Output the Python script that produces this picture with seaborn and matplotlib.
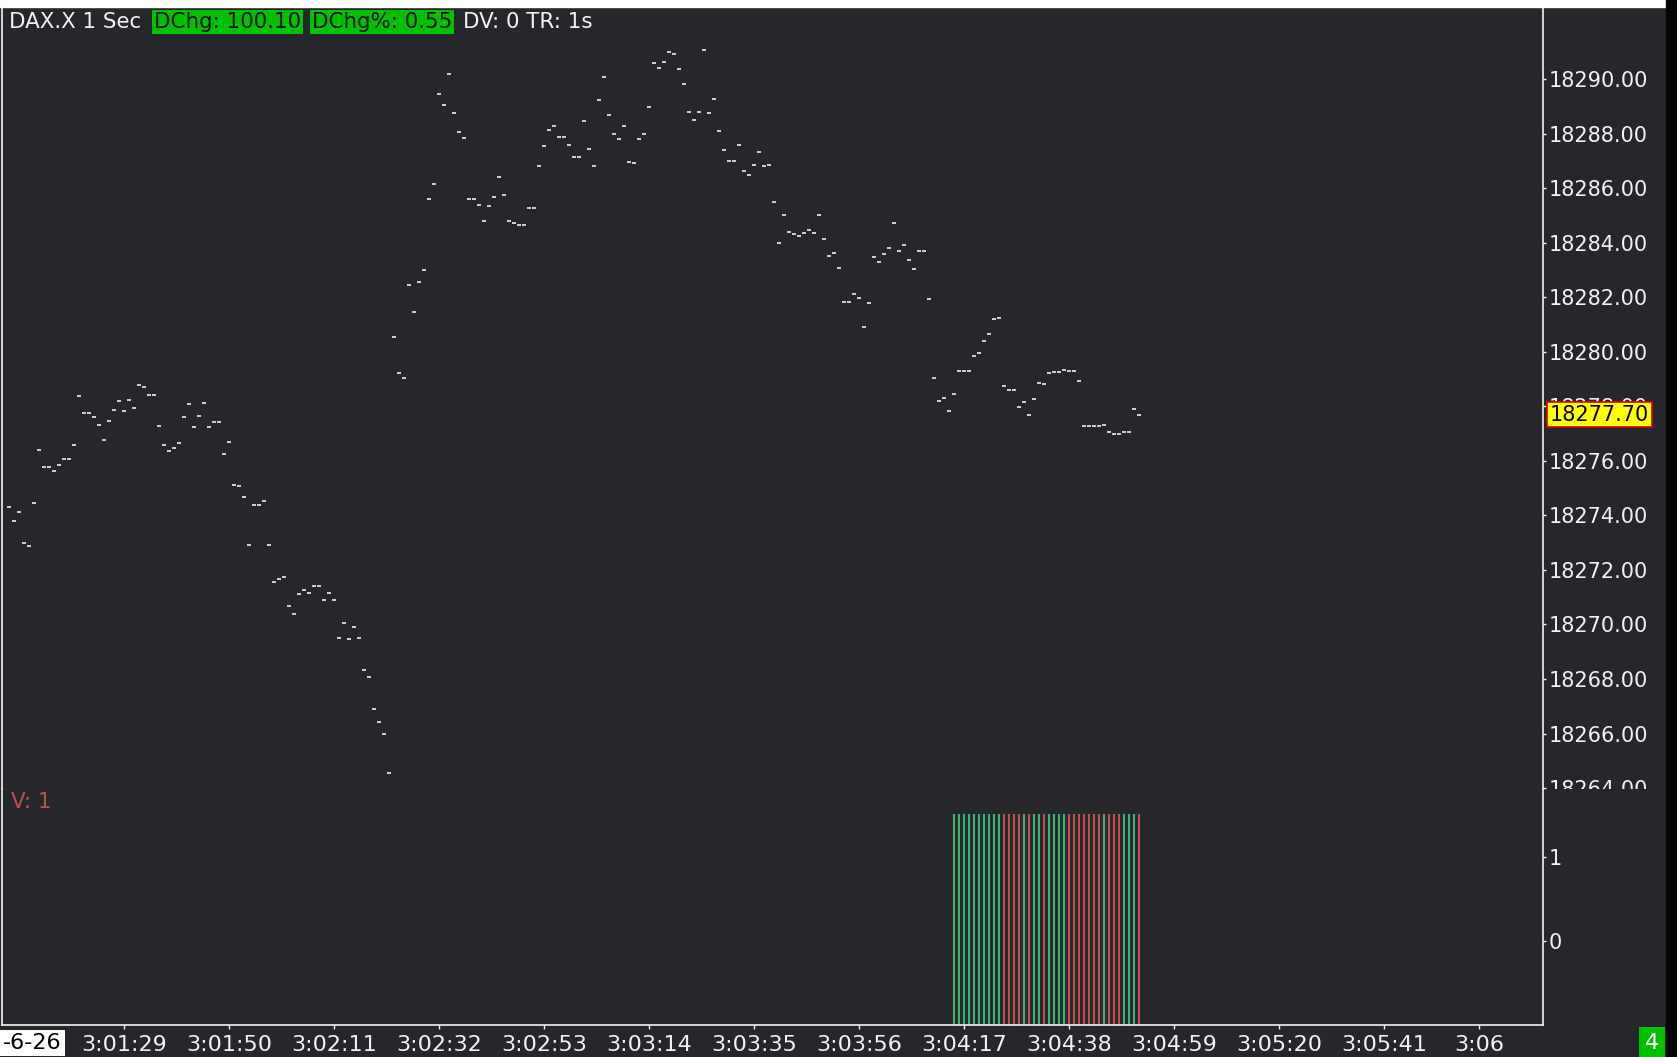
import numpy as np
import pandas as pd
import matplotlib
matplotlib.use("Agg")
import matplotlib.pyplot as plt
import matplotlib.transforms as mtransforms
from matplotlib.patches import Rectangle
import seaborn as sns

# -----------------------------
# Data (DAX.X, 1 second bars)
# -----------------------------
first_bar = "2024-06-26 03:01:06"

prices = [
    18274.31, 18273.78, 18274.11, 18272.98, 18272.87, 18274.44, 18276.39, 18275.76, 18275.76, 18275.62,
    18275.84, 18276.06, 18276.06, 18276.57, 18278.38, 18277.74, 18277.74, 18277.60, 18277.30, 18276.75,
    18277.45, 18277.85, 18278.18, 18277.82, 18278.22, 18277.93, 18278.77, 18278.70, 18278.41, 18278.41,
    18277.27, 18276.57, 18276.35, 18276.46, 18276.64, 18277.60, 18278.07, 18277.23, 18277.64, 18278.11,
    18277.23, 18277.41, 18277.41, 18276.24, 18276.68, 18275.10, 18275.07, 18274.66, 18272.90, 18274.37,
    18274.37, 18274.52, 18272.90, 18271.55, 18271.66, 18271.73, 18270.67, 18270.37, 18271.11, 18271.25,
    18271.14, 18271.40, 18271.40, 18270.89, 18271.14, 18270.89, 18269.49, 18270.04, 18269.46, 18269.90,
    18269.49, 18268.32, 18268.06, 18266.89, 18266.41, 18265.97, 18264.54, 18280.53, 18279.21, 18279.03,
    18282.44, 18281.45, 18282.55, 18282.99, 18285.59, 18286.14, 18289.44, 18289.04, 18290.18, 18288.75,
    18288.05, 18287.83, 18285.59, 18285.59, 18285.37, 18284.79, 18285.34, 18285.67, 18286.40, 18285.74,
    18284.79, 18284.71, 18284.64, 18284.64, 18285.26, 18285.26, 18286.80, 18287.54, 18288.12, 18288.27,
    18287.87, 18287.87, 18287.57, 18287.13, 18287.13, 18288.45, 18287.43, 18286.80, 18289.22, 18290.07,
    18288.67, 18287.98, 18287.79, 18288.27, 18286.95, 18286.91, 18287.79, 18287.98, 18288.97, 18290.58,
    18290.40, 18290.62, 18290.98, 18290.91, 18290.36, 18289.81, 18288.78, 18288.49, 18288.78, 18291.06,
    18288.75, 18289.26, 18288.09, 18287.39, 18286.99, 18286.99, 18287.57, 18286.62, 18286.47, 18286.84,
    18287.32, 18286.80, 18286.84, 18285.48, 18283.98, 18285.01, 18284.38, 18284.31, 18284.24, 18284.35,
    18284.46, 18284.35, 18285.01, 18284.13, 18283.50, 18283.61, 18283.06, 18281.82, 18281.82, 18282.11,
    18281.96, 18280.90, 18281.78, 18283.47, 18283.28, 18283.58, 18283.80, 18284.71, 18283.69, 18283.91,
    18283.36, 18283.03, 18283.69, 18283.69, 18281.93, 18279.03, 18278.18, 18278.29, 18277.82, 18278.44,
    18279.29, 18279.29, 18279.29, 18279.84, 18279.95, 18280.39, 18280.64, 18281.19, 18281.23, 18278.74,
    18278.59, 18278.59, 18277.97, 18278.15, 18277.67, 18278.26, 18278.85, 18278.81, 18279.21, 18279.25,
    18279.25, 18279.32, 18279.29, 18279.29, 18278.92, 18277.27, 18277.27, 18277.27, 18277.27, 18277.30,
    18277.05, 18276.97, 18276.97, 18277.05, 18277.05, 18277.89, 18277.70,
]

# only the last 38 bars carry volume
volume = [1] * 38

last_price = 18277.70
price_ticks = [18264, 18266, 18268, 18270, 18272, 18274, 18276, 18278,
               18280, 18282, 18284, 18286, 18288, 18290]
volume_ticks = [0, 1]
time_ticks = ["03:01:29", "03:01:50", "03:02:11", "03:02:32", "03:02:53", "03:03:14", "03:03:35",
              "03:03:56", "03:04:17", "03:04:38", "03:04:59", "03:05:20", "03:05:41", "03:06:00"]
time_labels = ["3:01:29", "3:01:50", "3:02:11", "3:02:32", "3:02:53", "3:03:14", "3:03:35",
               "3:03:56", "3:04:17", "3:04:38", "3:04:59", "3:05:20", "3:05:41", "3:06"]

# -----------------------------
# Style
# -----------------------------
BG = "#26272c"
FG = "#f2f2f2"
UP = "#3cb371"
DOWN = "#c0504d"
GREEN_BOX = "#00c000"
W, H = 1677, 1057
HEAD_SIZE = 15.4

sns.set_theme(style="dark", rc={"axes.facecolor": BG, "figure.facecolor": BG})
plt.rcParams["font.family"] = ["DejaVu Sans"]

times = pd.date_range(first_bar, periods=len(prices), freq="1s")
day = "2024-06-26 "

fig = plt.figure(figsize=(W / 100, H / 100), dpi=100)
ax_p = fig.add_axes([2 / W, 1 - 788.6 / H, 1541 / W, (788.6 - 8) / H])
ax_v = fig.add_axes([2 / W, 1 - 1025 / H, 1541 / W, (1025 - 788.6) / H], sharex=ax_p)

# price bars: one dash per second
sns.scatterplot(x=times, y=prices, marker="_", s=9, color="white", linewidth=1.1,
                ax=ax_p, legend=False)

# volume bars coloured by tick direction (ties keep last direction)
direction = pd.Series(prices).diff().apply(np.sign).replace(0, np.nan).ffill().fillna(1)
vol_dir = direction.iloc[-len(volume):].to_numpy()
vol_colors = np.where(vol_dir > 0, UP, DOWN)
vol_base = -0.99
ax_v.vlines(times[-len(volume):], vol_base, np.array(volume) * 1.5,
            colors=vol_colors, linewidth=1.5)

# axes limits / ticks
ax_p.set_xlim(pd.Timestamp(day + "03:01:04.58"), pd.Timestamp(day + "03:06:12.78"))
ax_p.set_ylim(18263.98, 18292.61)
ax_v.set_ylim(vol_base, 1.806)

for ax in (ax_p, ax_v):
    ax.set_facecolor(BG)
    ax.grid(False)
    ax.set_xlabel("")
    ax.set_ylabel("")
    ax.yaxis.tick_right()
    for side in ("left", "right", "bottom", "top"):
        ax.spines[side].set_visible(True)
        ax.spines[side].set_color(FG)
        ax.spines[side].set_linewidth(1.2)
    ax.tick_params(axis="y", which="both", right=True, left=False, labelright=True, labelleft=False,
                   direction="out", length=2.5, width=1, pad=1.5, colors=FG, labelsize=15)
ax_p.spines["top"].set_visible(False)
ax_p.spines["bottom"].set_visible(False)
ax_v.spines["top"].set_visible(False)

ax_p.set_yticks(price_ticks)
ax_p.set_yticklabels([f"{v:.2f}" for v in price_ticks])
ax_v.set_yticks(volume_ticks)
ax_v.set_yticklabels([str(v) for v in volume_ticks])

ax_p.tick_params(axis="x", bottom=False, labelbottom=False)
ax_v.set_xticks(pd.to_datetime([day + t for t in time_ticks]))
ax_v.set_xticklabels(time_labels)
ax_v.tick_params(axis="x", bottom=True, direction="out", length=3, width=1, pad=4,
                 colors=FG, labelsize=16)

# current price marker on the price scale
blend = mtransforms.blended_transform_factory(ax_p.transAxes, ax_p.transData)
ax_p.text(1 + 7 / 1541, last_price, f"{last_price:.2f}", transform=blend, ha="left", va="center",
          fontsize=15, color="black", clip_on=False, zorder=10,
          bbox=dict(boxstyle="square,pad=0.14", fc="#ffff00", ec="#e00000", lw=1.2))

ax_v.text(9 / 1541, 1 - (802 - 788.6) / (1025 - 788.6), "V: 1", transform=ax_v.transAxes,
          ha="left", va="center", fontsize=HEAD_SIZE, color=DOWN)

# header line
def fx(px):
    return px / W

def fy(py):
    return 1 - py / H

fig.text(fx(9), fy(22), "DAX.X 1 Sec", color=FG, fontsize=HEAD_SIZE, va="center")
fig.text(fx(154), fy(22), "DChg: 100.10", color="#111111", fontsize=HEAD_SIZE, va="center",
         bbox=dict(boxstyle="square,pad=0.1", fc=GREEN_BOX, ec="none"))
fig.text(fx(312), fy(22), "DChg%: 0.55", color="#111111", fontsize=HEAD_SIZE, va="center",
         bbox=dict(boxstyle="square,pad=0.1", fc=GREEN_BOX, ec="none"))
fig.text(fx(463), fy(22), "DV: 0 TR: 1s", color=FG, fontsize=HEAD_SIZE, va="center")

# bottom corner labels
fig.text(fx(3), fy(1043), "-6-26", color="black", fontsize=16, va="center", ha="left",
         bbox=dict(boxstyle="square,pad=0.15", fc="white", ec="none"))
fig.text(fx(1652), fy(1043), "4", color="white", fontsize=16, va="center", ha="center",
         bbox=dict(boxstyle="square,pad=0.25", fc=GREEN_BOX, ec="none"))

# window frame bits
fig.patches.append(Rectangle((0, fy(7)), fx(1666), 7 / H, transform=fig.transFigure,
                             color="white", zorder=5))
fig.patches.append(Rectangle((fx(1666), 0), 11 / W, 1, transform=fig.transFigure,
                             color="#050505", zorder=5))

# clip the price scale labels to the price pane
fig.canvas.draw()
clip = mtransforms.TransformedBbox(mtransforms.Bbox([[0, 0], [1.2, 1]]), ax_p.transAxes)
for tick in ax_p.yaxis.get_major_ticks():
    tick.label2.set_clip_box(clip)
    tick.label2.set_clip_on(True)

fig.savefig("out.png", dpi=100, facecolor=fig.get_facecolor())
